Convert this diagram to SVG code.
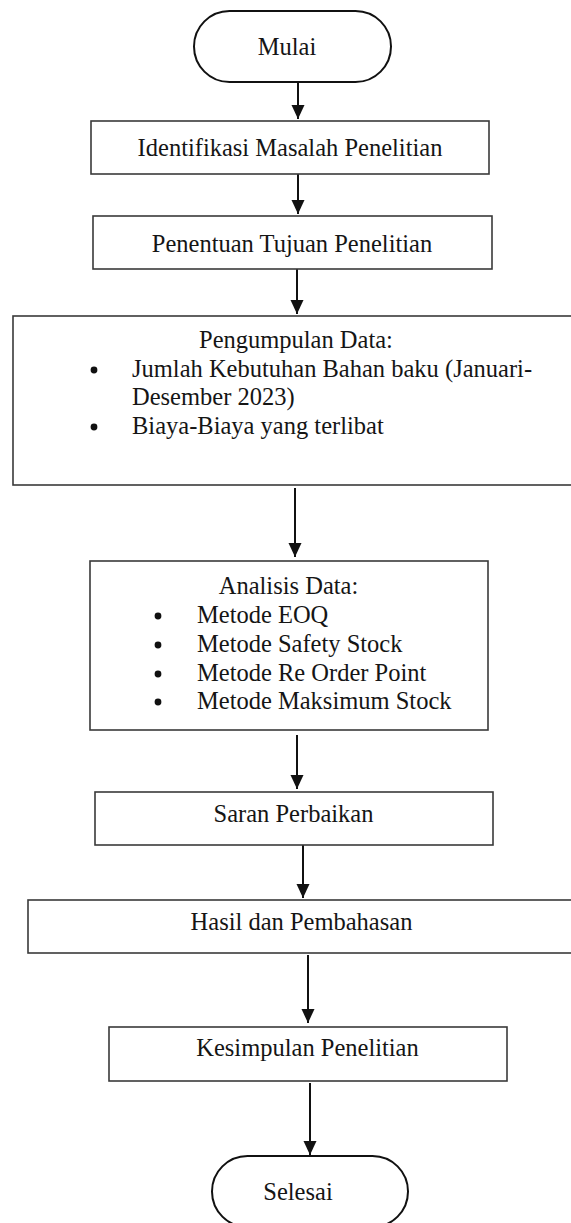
<svg xmlns="http://www.w3.org/2000/svg" width="571" height="1223" viewBox="0 0 571 1223">
<style>
  .bg{fill:#ffffff}
  .box{fill:#ffffff;stroke:#3a3a3a;stroke-width:1.6}
  .term{fill:#ffffff;stroke:#111111;stroke-width:2}
  .t{font-family:"Liberation Serif","Times New Roman",serif;font-size:24.5px;fill:#151515}
  .c{text-anchor:middle}
  .edge{stroke:#111111;stroke-width:2;fill:none}
  .dot{fill:#111111}
</style>
<defs>
  <marker id="ah" markerWidth="14" markerHeight="14" viewBox="0 0 14 14" refX="14" refY="7" orient="auto" markerUnits="userSpaceOnUse">
    <path d="M0,0.5 L14,7 L0,13.5 Z" fill="#111111"/>
  </marker>
</defs>
<rect class="bg" x="0" y="0" width="571" height="1223"/>

<g id="connectors">
  <line class="edge" x1="298" y1="82" x2="298" y2="119" marker-end="url(#ah)"/>
  <line class="edge" x1="298" y1="174" x2="298" y2="214" marker-end="url(#ah)"/>
  <line class="edge" x1="297" y1="269" x2="297" y2="314" marker-end="url(#ah)"/>
  <line class="edge" x1="295" y1="488" x2="295" y2="557" marker-end="url(#ah)"/>
  <line class="edge" x1="297" y1="735" x2="297" y2="789" marker-end="url(#ah)"/>
  <line class="edge" x1="303" y1="845" x2="303" y2="898" marker-end="url(#ah)"/>
  <line class="edge" x1="308" y1="955" x2="308" y2="1023" marker-end="url(#ah)"/>
  <line class="edge" x1="310" y1="1083" x2="310" y2="1155" marker-end="url(#ah)"/>
</g>

<g id="mulai">
  <rect class="term" x="194" y="11" width="197" height="71" rx="35.5" ry="35.5"/>
  <text class="t c" x="287" y="55">Mulai</text>
</g>

<g id="identifikasi">
  <rect class="box" x="91" y="121" width="398" height="53"/>
  <text class="t c" x="290" y="156">Identifikasi Masalah Penelitian</text>
</g>

<g id="penentuan">
  <rect class="box" x="93" y="216" width="399" height="53"/>
  <text class="t c" x="292" y="252">Penentuan Tujuan Penelitian</text>
</g>

<g id="pengumpulan">
  <rect class="box" x="13" y="316" width="570" height="169"/>
  <text class="t" x="199" y="348">Pengumpulan Data:</text>
  <circle class="dot" cx="94" cy="370" r="3.4"/>
  <text class="t" x="132" y="377">Jumlah Kebutuhan Bahan baku (Januari-</text>
  <text class="t" x="132" y="405">Desember 2023)</text>
  <circle class="dot" cx="94" cy="427" r="3.4"/>
  <text class="t" x="132" y="434">Biaya-Biaya yang terlibat</text>
</g>

<g id="analisis">
  <rect class="box" x="90" y="561" width="398" height="169"/>
  <text class="t c" x="288.5" y="594">Analisis Data:</text>
  <circle class="dot" cx="158" cy="616" r="3.4"/>
  <text class="t" x="197" y="623">Metode EOQ</text>
  <circle class="dot" cx="158" cy="645" r="3.4"/>
  <text class="t" x="197" y="652">Metode Safety Stock</text>
  <circle class="dot" cx="158" cy="674" r="3.4"/>
  <text class="t" x="197" y="681">Metode Re Order Point</text>
  <circle class="dot" cx="158" cy="702" r="3.4"/>
  <text class="t" x="197" y="709">Metode Maksimum Stock</text>
</g>

<g id="saran">
  <rect class="box" x="95" y="792" width="398" height="53"/>
  <text class="t c" x="293.5" y="822">Saran Perbaikan</text>
</g>

<g id="hasil">
  <rect class="box" x="28" y="900" width="560" height="53"/>
  <text class="t c" x="301.5" y="930">Hasil dan Pembahasan</text>
</g>

<g id="kesimpulan">
  <rect class="box" x="109" y="1027" width="398" height="54"/>
  <text class="t c" x="307.5" y="1056">Kesimpulan Penelitian</text>
</g>

<g id="selesai">
  <rect class="term" x="212" y="1156" width="196" height="71" rx="35.5" ry="35.5"/>
  <text class="t c" x="298" y="1200">Selesai</text>
</g>
</svg>
